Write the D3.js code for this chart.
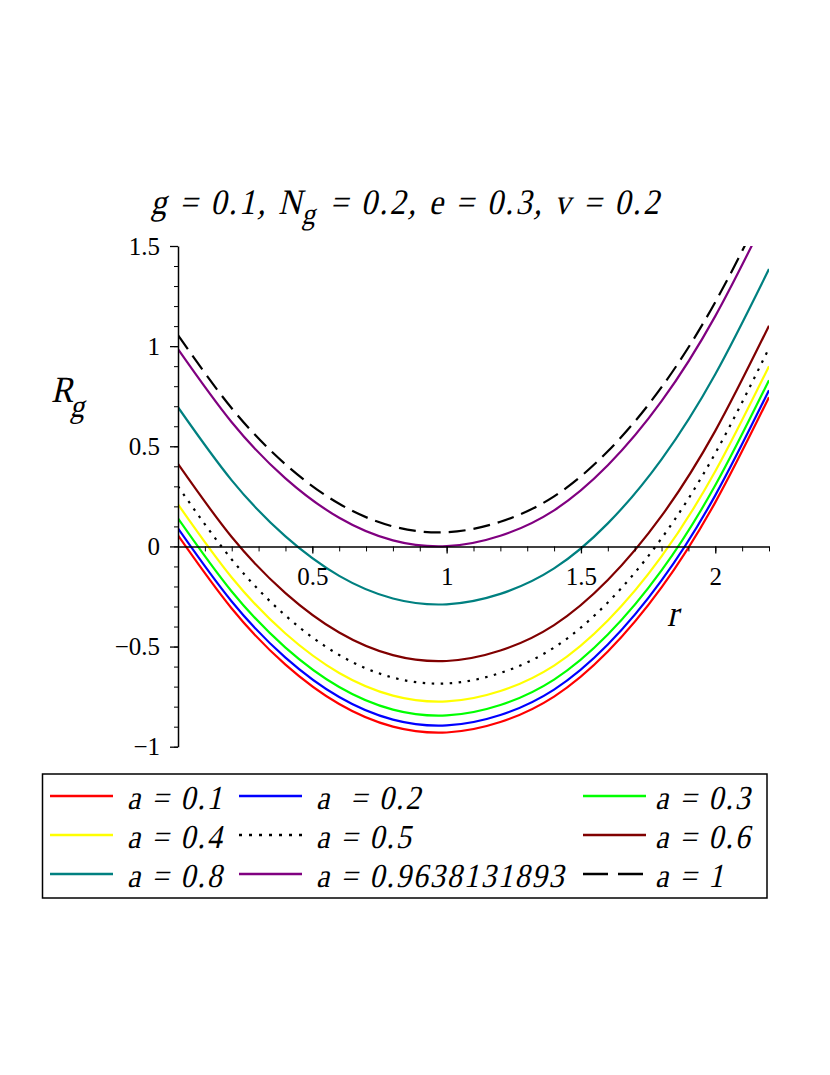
<!DOCTYPE html>
<html>
<head>
<meta charset="utf-8">
<script src="https://cdn.jsdelivr.net/npm/d3@7"></script>
<style>
  html, body { margin: 0; padding: 0; background: #fff; }
  svg { display: block; }
</style>
</head>
<body>
<div id="chart"></div>
<script>
// Family of R_g(r) curves, one per value of a.

const rValues = [0, 0.2, 0.4, 0.6, 0.8, 1.0, 1.2, 1.4, 1.6, 1.8, 2.0, 2.2];

const aLabels = ['a = 0.1', 'a  = 0.2', 'a = 0.3', 'a = 0.4', 'a = 0.5', 'a = 0.6',
                 'a = 0.8', 'a = 0.9638131893', 'a = 1'];

const seriesA01 = [0.055, -0.31, -0.59, -0.787, -0.90, -0.929, -0.877, -0.75, -0.525, -0.205, 0.22, 0.745];
const seriesA02 = [0.09, -0.275, -0.555, -0.752, -0.865, -0.894, -0.842, -0.715, -0.49, -0.17, 0.255, 0.78];
const seriesA03 = [0.14, -0.225, -0.505, -0.702, -0.815, -0.844, -0.792, -0.665, -0.44, -0.12, 0.305, 0.83];
const seriesA04 = [0.21, -0.155, -0.435, -0.632, -0.745, -0.774, -0.722, -0.595, -0.37, -0.05, 0.375, 0.90];
const seriesA05 = [0.30, -0.065, -0.345, -0.542, -0.655, -0.684, -0.632, -0.505, -0.28, 0.04, 0.465, 0.99];
const seriesA06 = [0.412, 0.047, -0.233, -0.43, -0.543, -0.572, -0.52, -0.393, -0.168, 0.152, 0.577, 1.102];
const seriesA08 = [0.695, 0.33, 0.05, -0.147, -0.26, -0.289, -0.237, -0.11, 0.115, 0.435, 0.86, 1.385];
const seriesA096 = [0.985, 0.62, 0.34, 0.143, 0.03, 0.001, 0.053, 0.18, 0.405, 0.725, 1.15, 1.675];
const seriesA1 = [1.055, 0.69, 0.41, 0.213, 0.10, 0.071, 0.123, 0.25, 0.475, 0.795, 1.22, 1.745];

const xTickLabels = [0.5, 1, 1.5, 2];
const yTickLabels = [-1, -0.5, 0, 0.5, 1, 1.5];

const seriesList = [
  { label: aLabels[0], values: seriesA01, color: '#ff0000', dash: null },
  { label: aLabels[1], values: seriesA02, color: '#0000ff', dash: null },
  { label: aLabels[2], values: seriesA03, color: '#00ff00', dash: null },
  { label: aLabels[3], values: seriesA04, color: '#ffff00', dash: null },
  { label: aLabels[4], values: seriesA05, color: '#000000', dash: '2.5,6.5' },
  { label: aLabels[5], values: seriesA06, color: '#800000', dash: null },
  { label: aLabels[6], values: seriesA08, color: '#008080', dash: null },
  { label: aLabels[7], values: seriesA096, color: '#800080', dash: null },
  { label: aLabels[8], values: seriesA1, color: '#000000', dash: '17,8' }
];

// the italic face falls back to a sans font, so slant (and stretch) the upright serif instead
const serif = '"Liberation Serif", "Times New Roman", Times, serif';
const slant = 'scale(1,1.12) skewX(-14)';

const width = 830, height = 1075;
const svg = d3.select('#chart').append('svg')
  .attr('width', width)
  .attr('height', height);

const x = d3.scaleLinear().domain([0, 2.2]).range([178, 769]);
const y = d3.scaleLinear().domain([-1, 1.5]).range([746.7, 246]);

svg.append('clipPath').attr('id', 'plot-clip')
  .append('rect')
  .attr('x', x(0)).attr('y', y(1.5))
  .attr('width', x(2.2) - x(0)).attr('height', y(-1) - y(1.5));

// Curves
const line = d3.line()
  .x((d, i) => x(rValues[i]))
  .y(d => y(d))
  .curve(d3.curveNatural);

const curves = svg.append('g').attr('clip-path', 'url(#plot-clip)');
curves.selectAll('path')
  .data(seriesList)
  .join('path')
  .attr('d', d => line(d.values))
  .attr('fill', 'none')
  .attr('stroke', d => d.color)
  .attr('stroke-width', 2.2)
  .attr('stroke-dasharray', d => d.dash);

// Axes: minor ticks every 0.1, major ticks with labels every 0.5
const fmt = v => (v < 0 ? '\u2212' : '') + Math.abs(v);

const xMinor = d3.range(1, 23).map(i => i / 10);
svg.append('g')
  .attr('transform', `translate(0,${y(0)})`)
  .call(d3.axisBottom(x).tickValues(xMinor).tickSize(5).tickFormat('').tickSizeOuter(0))
  .call(g => g.select('.domain').attr('stroke-width', 1.5));
svg.append('g')
  .attr('transform', `translate(0,${y(0)})`)
  .call(d3.axisBottom(x).tickValues(xTickLabels).tickSize(7).tickPadding(14).tickFormat(fmt).tickSizeOuter(0))
  .attr('font-family', serif)
  .call(g => g.select('.domain').remove())
  .call(g => g.selectAll('line').attr('stroke-width', 1.3))
  .call(g => g.selectAll('text')
    .attr('font-size', 25)
    .attr('fill', '#000'));

const yMinor = d3.range(-10, 16).map(i => i / 10);
svg.append('g')
  .attr('transform', `translate(${x(0)},0)`)
  .call(d3.axisLeft(y).tickValues(yMinor).tickSize(4).tickFormat('').tickSizeOuter(0))
  .call(g => g.select('.domain').attr('stroke-width', 1.5));
svg.append('g')
  .attr('transform', `translate(${x(0)},0)`)
  .call(d3.axisLeft(y).tickValues(yTickLabels).tickSize(8).tickPadding(10).tickFormat(fmt).tickSizeOuter(0))
  .attr('font-family', serif)
  .call(g => g.select('.domain').remove())
  .call(g => g.selectAll('line').attr('stroke-width', 1.3))
  .call(g => g.selectAll('text')
    .attr('font-size', 25)
    .attr('fill', '#000'));

// Title
const title = svg.append('text')
  .attr('transform', `translate(406,214) ${slant}`)
  .attr('text-anchor', 'middle')
  .attr('font-family', serif)
  .attr('font-size', 32)
  .attr('letter-spacing', 2.4)
  .attr('xml:space', 'preserve');
title.append('tspan').text('g = 0.1, N');
title.append('tspan').attr('dy', 9).attr('font-size', 27).text('g');
title.append('tspan').attr('dy', -9).text(' = 0.2, e = 0.3, v = 0.2');

// Axis labels
const yLabel = svg.append('text')
  .attr('transform', `translate(51,402) ${slant}`)
  .attr('font-family', serif)
  .attr('font-size', 33);
yLabel.append('tspan').text('R');
yLabel.append('tspan').attr('dy', 13).attr('font-size', 29).text('g');

svg.append('text')
  .attr('transform', `translate(667,626) ${slant}`)
  .attr('font-family', serif)
  .attr('font-size', 33)
  .text('r');

// Legend
const legend = svg.append('g');
legend.append('rect')
  .attr('x', 42.5).attr('y', 774)
  .attr('width', 767 - 42.5).attr('height', 898 - 774)
  .attr('fill', 'none')
  .attr('stroke', '#000')
  .attr('stroke-width', 1.5);

const colX = [50, 239, 583];
const rowY = [796, 835, 874];

const items = legend.selectAll('g.item')
  .data(seriesList)
  .join('g')
  .attr('class', 'item')
  .attr('transform', (d, i) => `translate(${colX[i % 3]},${rowY[Math.floor(i / 3)]})`);

items.append('line')
  .attr('x1', 0).attr('x2', 63)
  .attr('y1', 0).attr('y2', 0)
  .attr('stroke', d => d.color)
  .attr('stroke-width', 2.5)
  .attr('stroke-dasharray', d => d.dash === '17,8' ? '25,10' : d.dash ? '3,7' : null);

items.append('text')
  .attr('transform', (d, i) => `translate(${i % 3 === 2 ? 72 : 77},13) ${slant}`)
  .attr('font-family', serif)
  .attr('font-size', 30)
  .attr('letter-spacing', 2)
  .attr('xml:space', 'preserve')
  .text(d => d.label);
</script>
</body>
</html>
